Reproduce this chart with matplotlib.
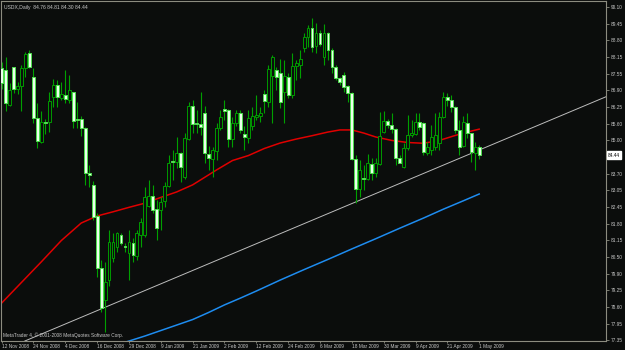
import numpy as np
import matplotlib.pyplot as plt
from matplotlib.transforms import blended_transform_factory

# daily USDX candles, 12 Nov 2008 .. 1 May 2009
opens = [87.75, 87.69, 86.35, 87.80, 86.96, 87.09, 87.78, 88.33, 87.41, 85.85,
         84.95, 85.69, 85.69, 86.65, 87.12, 86.61, 86.74, 86.55, 86.84, 85.82,
         85.82, 85.46, 83.74, 83.30, 82.11, 80.13, 78.90, 79.66, 80.49, 80.94,
         81.38, 80.95, 80.71, 81.09, 80.58, 81.38, 81.38, 82.49, 82.88, 82.37,
         82.34, 82.70, 83.26, 84.20, 84.19, 84.51, 83.59, 85.04, 86.32, 85.64,
         85.62, 86.04, 84.48, 84.28, 84.61, 85.46, 86.20, 86.16, 85.04, 85.68,
         86.06, 85.23, 85.08, 85.55, 85.88, 85.93, 86.78, 86.48, 87.46, 87.69,
         87.59, 86.86, 87.44, 86.74, 87.85, 87.88, 88.52, 88.97, 89.29, 88.61,
         89.12, 88.18, 89.10, 88.46, 87.82, 87.38, 87.50, 87.08, 86.83, 84.28,
         83.13, 83.54, 83.51, 84.10, 83.74, 84.09, 85.33, 85.74, 85.59, 85.43,
         84.32, 83.97, 84.70, 85.21, 85.25, 85.72, 85.65, 84.53, 84.63, 84.76,
         84.89, 85.90, 86.67, 86.55, 86.29, 85.40, 84.80, 85.68, 85.27, 84.53,
         84.76]
highs = [88.00, 88.18, 87.21, 87.82, 87.25, 87.88, 88.39, 88.46, 87.76, 86.42,
         86.12, 85.81, 86.86, 87.34, 87.31, 87.25, 87.69, 87.50, 86.86, 86.48,
         85.93, 85.50, 84.06, 83.45, 82.21, 80.43, 80.35, 81.57, 81.46, 81.51,
         81.45, 81.08, 81.57, 81.26, 81.57, 82.02, 83.23, 83.49, 83.30, 82.72,
         82.85, 83.42, 84.44, 84.63, 85.14, 84.57, 85.27, 86.48, 86.55, 86.16,
         86.86, 86.32, 84.79, 84.76, 85.65, 86.16, 86.55, 86.19, 85.91, 86.16,
         86.16, 85.55, 86.16, 86.29, 86.74, 86.29, 86.93, 87.88, 88.27, 87.82,
         88.10, 88.08, 87.57, 88.33, 88.08, 88.46, 89.10, 89.41, 89.67, 89.50,
         89.22, 89.45, 89.16, 88.52, 87.88, 87.44, 87.63, 87.12, 86.86, 84.44,
         84.25, 84.06, 84.48, 84.33, 84.33, 86.10, 86.14, 85.81, 86.04, 85.46,
         84.44, 84.89, 85.97, 85.78, 86.04, 86.04, 85.72, 84.95, 85.59, 86.04,
         86.10, 86.86, 86.80, 86.74, 86.32, 85.78, 85.93, 86.04, 85.27, 84.95,
         84.81]
lows = [86.95, 86.14, 86.33, 86.80, 86.76, 86.14, 87.41, 87.76, 85.68, 84.72,
        84.89, 85.23, 85.33, 86.29, 86.29, 86.55, 86.42, 86.42, 85.46, 85.46,
        85.18, 83.30, 83.23, 81.96, 79.79, 78.44, 77.67, 79.43, 80.36, 80.75,
        81.00, 80.75, 79.66, 80.36, 80.43, 80.94, 81.32, 82.47, 82.21, 81.19,
        81.57, 82.47, 83.23, 83.49, 83.96, 83.42, 83.51, 85.02, 85.27, 85.27,
        85.21, 84.13, 83.87, 83.61, 84.25, 85.40, 85.78, 84.76, 84.76, 85.55,
        85.27, 84.63, 84.89, 85.40, 85.78, 85.72, 86.04, 86.29, 85.65, 86.93,
        86.23, 85.65, 86.61, 86.61, 87.31, 87.38, 88.39, 88.58, 88.39, 88.33,
        88.61, 87.88, 88.08, 87.57, 87.31, 87.12, 86.86, 86.48, 84.25, 82.62,
        82.85, 83.10, 83.49, 83.49, 83.61, 84.06, 85.27, 85.46, 85.27, 84.06,
        84.13, 83.93, 84.63, 85.14, 85.21, 85.40, 84.44, 84.44, 84.44, 84.63,
        84.63, 85.85, 86.32, 86.10, 85.27, 84.44, 84.76, 85.08, 84.19, 83.87,
        84.30]
closes = [87.20, 86.42, 86.93, 86.97, 87.09, 87.78, 88.30, 87.82, 85.85, 84.98,
          85.69, 85.68, 86.51, 87.12, 86.65, 86.76, 86.60, 86.93, 85.75, 85.78,
          85.46, 83.74, 83.67, 82.08, 80.11, 78.58, 79.59, 81.13, 81.13, 81.46,
          81.07, 80.93, 81.13, 80.62, 81.45, 81.89, 82.85, 82.88, 82.34, 81.66,
          82.66, 83.26, 84.15, 84.18, 84.51, 83.97, 85.08, 86.32, 85.63, 85.62,
          85.52, 84.51, 84.32, 84.63, 85.46, 85.91, 86.14, 85.04, 85.68, 86.06,
          85.40, 85.12, 85.86, 85.93, 85.97, 86.04, 86.52, 87.72, 88.20, 87.44,
          86.48, 87.46, 86.74, 87.85, 87.97, 88.10, 88.97, 89.29, 88.58, 89.10,
          88.68, 89.10, 88.46, 87.82, 87.38, 87.25, 87.05, 86.80, 84.28, 83.13,
          83.87, 83.52, 84.12, 83.74, 84.12, 85.17, 85.75, 85.58, 85.43, 84.32,
          84.15, 84.70, 85.21, 85.30, 85.72, 85.50, 84.57, 84.76, 85.14, 85.21,
          85.91, 86.67, 86.55, 86.28, 85.40, 84.76, 85.72, 85.27, 84.57, 84.76,
          84.44]

date_labels = ['12 Nov 2008', '24 Nov 2008', '4 Dec 2008', '16 Dec 2008', '29 Dec 2008',
               '9 Jan 2009', '21 Jan 2009', '2 Feb 2009', '12 Feb 2009', '24 Feb 2009',
               '6 Mar 2009', '18 Mar 2009', '30 Mar 2009', '9 Apr 2009', '21 Apr 2009',
               '1 May 2009']
# 84.35 sits under the current-price box, so its label is hidden there
price_labels = ['77.35', '77.95', '78.60', '79.25', '79.90', '80.50', '81.15', '81.80',
                '82.45', '83.05', '83.70', '', '85.00', '85.60', '86.25', '86.90',
                '87.55', '88.15', '88.80', '89.45', '90.10']

# moving averages (bar index, value)
red_idx = [0, 5, 10, 15, 20, 24, 28, 32, 36, 40, 44, 48, 50, 54, 58, 62, 66, 70, 74,
           78, 82, 85, 88, 91, 94, 98, 102, 106, 110, 114, 117, 120]
red_val = [78.78, 79.57, 80.36, 81.17, 81.84, 82.11, 82.27, 82.44, 82.60, 82.82, 83.03,
           83.30, 83.49, 83.87, 84.23, 84.42, 84.69, 84.90, 85.05, 85.18, 85.32, 85.40,
           85.40, 85.28, 85.13, 85.00, 84.92, 84.89, 85.00, 85.19, 85.32, 85.43]
blue_idx = [31, 36, 40, 44, 48, 52, 56, 60, 64, 70, 76, 82, 88, 94, 100, 106, 111, 116, 120]
blue_val = [77.28, 77.52, 77.73, 77.94, 78.15, 78.42, 78.71, 78.97, 79.24, 79.66, 80.06,
            80.45, 80.85, 81.24, 81.64, 82.03, 82.37, 82.69, 82.95]
trend_pts = [(6, 77.34), (150, 86.55)]

bg = '#0b0d0c'
fg = '#c8c8c8'
frame = '#8c8c80'

o = np.array(opens); h = np.array(highs); l = np.array(lows); c = np.array(closes)
x = np.arange(len(o))
up = c >= o

fig = plt.figure(figsize=(6.25, 3.5), dpi=100, facecolor=bg)
ax = fig.add_axes([1 / 625, 9 / 350, 605 / 625, 340 / 350], facecolor=bg)

ax.axline(trend_pts[0], trend_pts[1], color='#bdbdbd', lw=0.7, zorder=1)
ax.plot(blue_idx, blue_val, color='#1e8cf0', lw=1.1, zorder=2)
ax.plot(red_idx, red_val, color='#e00000', lw=1.1, zorder=2)

ax.vlines(x, l, h, color='#00a000', lw=0.8, zorder=3)
bottom = np.minimum(o, c)
height = np.maximum(np.abs(c - o), 0.03)
ax.bar(x[up], height[up], bottom=bottom[up], width=0.72, facecolor=bg,
       edgecolor='#009a00', lw=0.7, zorder=4)
ax.bar(x[~up], height[~up], bottom=bottom[~up], width=0.72, facecolor='#eaffea',
       edgecolor='#4ee04e', lw=0.7, zorder=4)

ax.set_xlim(-0.15, 151.86)
ax.set_ylim(77.33, 90.33)

ax.yaxis.tick_right()
ax.set_yticks(np.linspace(77.35, 90.10, len(price_labels)))
ax.set_yticklabels(price_labels)
ax.set_xticks(np.arange(0, 121, 8))
ax.set_xticklabels(date_labels, ha='left')
ax.tick_params(axis='y', colors=frame, labelcolor=fg, labelsize=3.4, length=2.0,
               width=0.6, pad=1.5)
ax.tick_params(axis='x', colors=frame, labelcolor=fg, labelsize=3.4, length=1.5,
               width=0.6, pad=0.4)
for lab in ax.get_yticklabels() + ax.get_xticklabels():
    lab.set_family('Liberation Sans')
for s in ax.spines.values():
    s.set_color(frame)
    s.set_linewidth(0.8)

tr = blended_transform_factory(ax.transAxes, ax.transData)
ax.text(1.003, closes[-1], f'{closes[-1]:.2f}', transform=tr, ha='left', va='center',
        fontsize=3.4, family='Liberation Sans', color='black',
        bbox=dict(boxstyle='square,pad=0.25', fc='white', ec='white'))

fig.text(4 / 625, 1 - 7 / 350, 'USDX,Daily  %.2f %.2f %.2f %.2f' % (opens[-1], highs[-1], lows[-1], closes[-1]),
         fontsize=3.6, family='Liberation Sans', color=fg, va='center')
fig.text(3 / 625, 1 - 335 / 350, 'MetaTrader 4, © 2001-2008 MetaQuotes Software Corp.',
         fontsize=3.4, family='Liberation Sans', color=fg, va='center')

fig.savefig('out.png', dpi=100, facecolor=bg)
